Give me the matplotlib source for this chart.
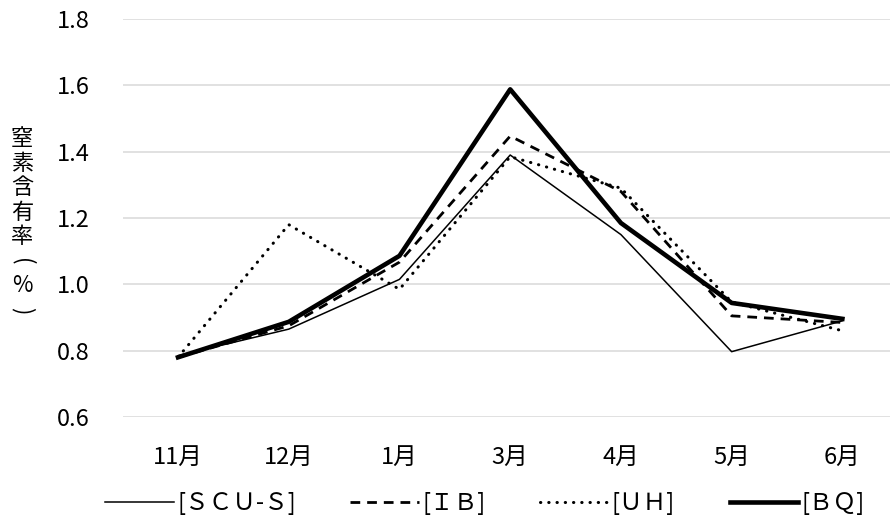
import numpy as np
import matplotlib
matplotlib.use('Agg')
from matplotlib import pyplot as plt

plt.rcParams['font.family'] = ['Noto Sans CJK JP', 'DejaVu Sans']

months = ['11月', '12月', '1月', '3月', '4月', '5月', '6月']
scu_s = [0.785, 0.865, 1.015, 1.39, 1.15, 0.797, 0.89]
ib = [0.78, 0.875, 1.067, 1.447, 1.28, 0.905, 0.885]
uh = [0.78, 1.18, 0.985, 1.385, 1.29, 0.947, 0.86]
bq = [0.78, 0.887, 1.086, 1.588, 1.185, 0.944, 0.896]
labels = ['[ＳＣＵ-Ｓ]', '[ＩＢ]', '[ＵＨ]', '[ＢＱ]']
yticks = [0.6, 0.8, 1.0, 1.2, 1.4, 1.6, 1.8]
ylabel_chars = ['窒', '素', '含', '有', '率', '(', '%', ')']

fig = plt.figure(figsize=(8.9, 5.27), dpi=100)
ax = fig.add_axes([0.1378, 0.2087, 0.8622, 0.7552])

x = np.arange(len(months))
ax.plot(x, scu_s, color='black', lw=1.1, label=labels[0])
ax.plot(x, ib, color='black', lw=2.0, linestyle=(0, (3.5, 2.5)), label=labels[1])
ax.plot(x, uh, color='black', lw=2.2, linestyle=(0, (0.1, 2.6)),
        dash_capstyle='round', label=labels[2])
ax.plot(x, bq, color='black', lw=3.3, label=labels[3])

ax.set_xlim(-0.5, 6.43)
ax.set_ylim(0.6, 1.8)
ax.set_yticks(yticks)
ax.set_yticklabels(['%.1f' % v for v in yticks])
ax.set_xticks(x)
ax.set_xticklabels(months)
ax.tick_params(axis='both', length=0, labelsize=17, colors='black')
ax.tick_params(axis='y', pad=24)
ax.tick_params(axis='x', pad=21)
ax.yaxis.grid(True, color='#d9d9d9', lw=1.1)
ax.set_axisbelow(True)
for s in ax.spines.values():
    s.set_visible(False)

# vertical (tategaki) y label, one character per line
y0 = 1 - 139 / 527
step = 24.5 / 527
for i, ch in enumerate(ylabel_chars):
    rot = -90 if ch in '()' else 0
    fig.text(0.025, y0 - i * step, ch, ha='center', va='center',
             fontsize=16, rotation=rot)

fig.legend(loc='center', bbox_to_anchor=(0.545, 0.045), ncol=4, frameon=False,
           fontsize=17, handlelength=2.9, handletextpad=0.15, columnspacing=2.3)

plt.savefig('out.png', dpi=100)
